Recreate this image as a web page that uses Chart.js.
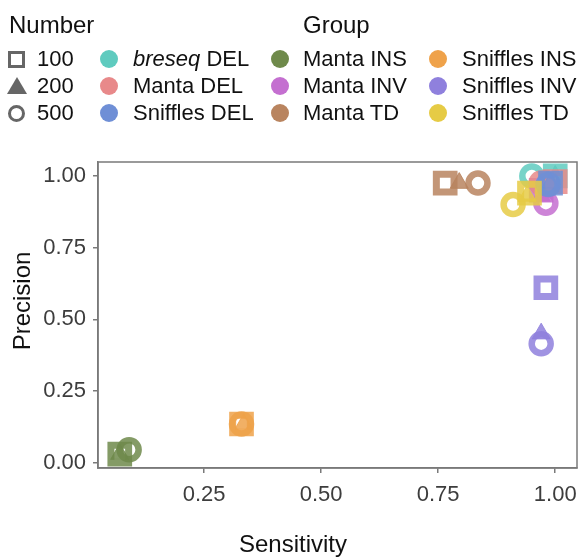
<!DOCTYPE html>
<html lang="en">
<head>
  <meta charset="UTF-8" />
  <title>Sensitivity vs Precision</title>
  <script src="https://cdn.jsdelivr.net/npm/chart.js"></script>
  <style>
    body { margin: 0; background: #fff; font-family: "Liberation Sans", Arial, sans-serif; color: #111; }
    #wrap { position: relative; width: 584px; height: 557px; overflow: hidden; }
    #chart { position: absolute; left: 0; top: 0; }
    .txt { position: absolute; white-space: nowrap; line-height: 22px; font-size: 22px; }
    .title { position: absolute; white-space: nowrap; line-height: 24px; font-size: 24px; }
    .sym { position: absolute; box-sizing: border-box; }
  </style>
</head>
<body>
<div id="wrap">
  <canvas id="chart" width="584" height="557"></canvas>
  <div class="title" style="left:9px; top:13px;">Number</div>
  <div class="title" style="left:303px; top:13px;">Group</div>
  <div class="title" style="left:239px; top:532px;">Sensitivity</div>
  <div class="title" style="left:22px; top:301px; transform: translate(-50%,-50%) rotate(-90deg);">Precision</div>
  <div id="legend"></div>
</div>

<script>
  // legend / categories
  const numbers = ["100", "200", "500"];
  const groups = ["breseq DEL", "Manta DEL", "Sniffles DEL",
                  "Manta INS", "Manta INV", "Manta TD",
                  "Sniffles INS", "Sniffles INV", "Sniffles TD"];
  const xTicks = [0.25, 0.50, 0.75, 1.00];
  const yTicks = [0.00, 0.25, 0.50, 0.75, 1.00];

  // values per group, in the order 100 / 200 / 500
  const breseqDelSens   = [1.00, 1.00, 0.95];
  const breseqDelPrec   = [1.00, 1.00, 1.00];
  const mantaDelSens    = [1.00, 0.99, 0.97];
  const mantaDelPrec    = [0.98, 0.98, 0.975];
  const snifflesDelSens = [0.99, 0.99, 0.985];
  const snifflesDelPrec = [0.975, 0.975, 0.97];
  const mantaInsSens    = [0.07, 0.07, 0.09];
  const mantaInsPrec    = [0.03, 0.03, 0.045];
  const mantaInvSens    = [0.97, 0.97, 0.98];
  const mantaInvPrec    = [0.95, 0.93, 0.905];
  const mantaTdSens     = [0.765, 0.795, 0.835];
  const mantaTdPrec     = [0.975, 0.975, 0.975];
  const snifflesInsSens = [0.33, 0.335, 0.33];
  const snifflesInsPrec = [0.135, 0.135, 0.135];
  const snifflesInvSens = [0.98, 0.97, 0.97];
  const snifflesInvPrec = [0.61, 0.45, 0.415];
  const snifflesTdSens  = [0.945, 0.94, 0.91];
  const snifflesTdPrec  = [0.94, 0.93, 0.90];

  const colors = {
    "breseq DEL":   "#5FCBBF",
    "Manta DEL":    "#E8898A",
    "Sniffles DEL": "#6F8FD6",
    "Manta INS":    "#6F8A4B",
    "Manta INV":    "#C46FD0",
    "Manta TD":     "#B9845F",
    "Sniffles INS": "#EFA24A",
    "Sniffles INV": "#8F80DD",
    "Sniffles TD":  "#E6CB45"
  };

  const series = {
    "breseq DEL":   [breseqDelSens, breseqDelPrec],
    "Manta DEL":    [mantaDelSens, mantaDelPrec],
    "Sniffles DEL": [snifflesDelSens, snifflesDelPrec],
    "Manta INS":    [mantaInsSens, mantaInsPrec],
    "Manta INV":    [mantaInvSens, mantaInvPrec],
    "Manta TD":     [mantaTdSens, mantaTdPrec],
    "Sniffles INS": [snifflesInsSens, snifflesInsPrec],
    "Sniffles INV": [snifflesInvSens, snifflesInvPrec],
    "Sniffles TD":  [snifflesTdSens, snifflesTdPrec]
  };

  // first in this list is drawn on top
  const drawOrder = ["Sniffles TD", "Sniffles INV", "Sniffles DEL", "Manta DEL",
                     "Manta INV", "breseq DEL", "Manta TD", "Sniffles INS", "Manta INS"];

  const shapes = ["rect", "triangle", "circle"];
  const ALPHA = "D9";
  const clear = "rgba(0,0,0,0)";

  const datasets = drawOrder.map(g => {
    const c = colors[g] + ALPHA;
    const [sx, sy] = series[g];
    return {
      label: g,
      data: sx.map((x, i) => ({ x: x, y: sy[i] })),
      pointStyle: shapes,
      pointRadius: [12.5, 10.5, 9.5],
      pointBorderWidth: [7, 1, 6.5],
      pointBackgroundColor: [clear, c, clear],
      pointBorderColor: c,
      clip: false
    };
  });

  // panel border
  const boxPlugin = {
    id: "box",
    afterDraw(chart) {
      const a = chart.chartArea, ctx = chart.ctx;
      ctx.save();
      ctx.strokeStyle = "#7a7a7a";
      ctx.lineWidth = 1.5;
      ctx.strokeRect(a.left, a.top, a.right - a.left, a.bottom - a.top);
      ctx.restore();
    }
  };

  Chart.defaults.font.family = '"Liberation Sans", Arial, sans-serif';

  const tickFont = { size: 22 };
  const axisBase = {
    type: "linear",
    grid: { drawOnChartArea: false, drawTicks: true, tickLength: 5, color: "#7a7a7a", lineWidth: 1.5 },
    border: { display: true, color: "#7a7a7a", width: 1.5 }
  };

  new Chart(document.getElementById("chart"), {
    type: "scatter",
    data: { datasets: datasets },
    options: {
      responsive: false,
      animation: false,
      events: [],
      devicePixelRatio: 1,
      layout: { autoPadding: false, padding: { top: 162, right: 7, left: 0, bottom: 0 } },
      plugins: { legend: { display: false }, tooltip: { enabled: false } },
      scales: {
        x: Object.assign({}, axisBase, {
          min: 0.0235, max: 1.0465,
          afterBuildTicks: s => { s.ticks = xTicks.map(v => ({ value: v })); },
          afterFit: s => { s.height = 89; s.paddingLeft = 0; s.paddingRight = 0; },
          ticks: { font: tickFont, color: "#3d3d3d", padding: 9, maxRotation: 0, autoSkip: false,
                   callback: v => Number(v).toFixed(2) }
        }),
        y: Object.assign({}, axisBase, {
          min: -0.0185, max: 1.0485,
          afterBuildTicks: s => { s.ticks = yTicks.map(v => ({ value: v })); },
          afterFit: s => { s.width = 98; s.paddingTop = 0; s.paddingBottom = 0; },
          ticks: { font: tickFont, color: "#3d3d3d", padding: 7, autoSkip: false,
                   callback: v => Number(v).toFixed(2) }
        })
      }
    },
    plugins: [boxPlugin]
  });

  // legend (HTML)
  const legend = document.getElementById("legend");
  const rowY = [59, 86, 113];
  const gray = "#666";

  function addText(text, left, cy, italicWord) {
    const d = document.createElement("div");
    d.className = "txt";
    d.style.left = left + "px";
    d.style.top = (cy - 11) + "px";
    if (italicWord && text.startsWith(italicWord)) {
      const i = document.createElement("i");
      i.textContent = italicWord;
      d.appendChild(i);
      d.appendChild(document.createTextNode(text.slice(italicWord.length)));
    } else {
      d.textContent = text;
    }
    legend.appendChild(d);
  }

  function addSym(css) {
    const d = document.createElement("div");
    d.className = "sym";
    Object.assign(d.style, css);
    legend.appendChild(d);
  }

  numbers.forEach((n, i) => {
    const cy = rowY[i];
    if (i === 0) addSym({ left: "8px", top: (cy - 8) + "px", width: "17px", height: "17px", border: "3.5px solid " + gray });
    if (i === 1) addSym({ left: "7px", top: (cy - 9) + "px", width: "0", height: "0",
                          borderLeft: "10px solid transparent", borderRight: "10px solid transparent",
                          borderBottom: "17px solid " + gray });
    if (i === 2) addSym({ left: "8px", top: (cy - 8) + "px", width: "17px", height: "17px", borderRadius: "50%",
                          border: "3.5px solid " + gray });
    addText(n, 37, cy);
  });

  const colCircle = [109, 280, 438];
  const colText = [133, 303, 462];
  groups.forEach((g, k) => {
    const col = Math.floor(k / 3), row = k % 3;
    const cy = rowY[row];
    addSym({ left: (colCircle[col] - 9) + "px", top: (cy - 9) + "px", width: "18px", height: "18px",
             borderRadius: "50%", background: colors[g] });
    addText(g, colText[col], cy, "breseq");
  });
</script>
</body>
</html>
